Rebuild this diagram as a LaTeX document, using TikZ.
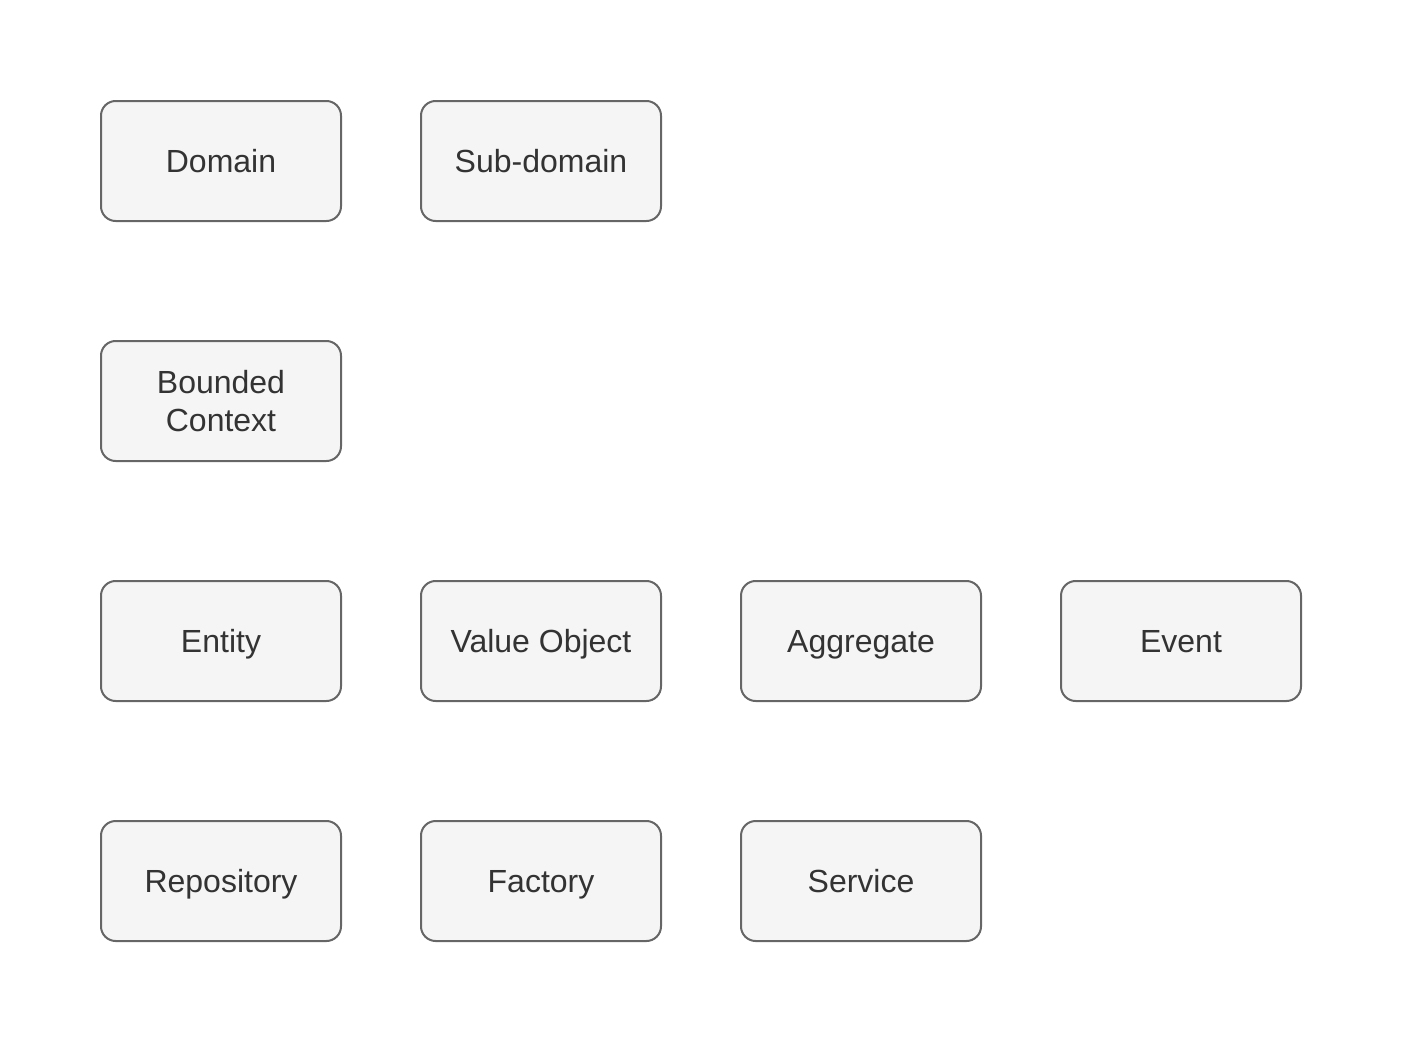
\documentclass[tikz,border=0pt]{standalone}
\usepackage{fontspec}
\setmainfont{Liberation Sans}
\definecolor{boxfill}{HTML}{F5F5F5}
\definecolor{boxline}{HTML}{666666}
\definecolor{boxtext}{HTML}{333333}
\begin{document}
\begin{tikzpicture}[x=0.75pt,y=-0.75pt,
  concept/.style={draw=boxline,fill=boxfill,line width=1.5pt,rounded corners=11pt,
    minimum width=180pt,minimum height=90pt,inner sep=0pt,align=center,
    text=boxtext,font=\fontsize{24pt}{28.8pt}\selectfont},
  oneline/.style={concept,text height=17.2pt,text depth=0pt}]
\useasboundingbox (0,0) rectangle (1402,1042);
\node[oneline] (domain) at (221,161) {Domain};
\node[oneline] (subdomain) at (541,161) {Sub-domain};
\node[concept] (bc) at (221,401) {Bounded\\Context};
\node[oneline] (entity) at (221,641) {Entity};
\node[oneline] (vo) at (541,641) {Value Object};
\node[oneline] (agg) at (861,641) {Aggregate};
\node[oneline] (event) at (1181,641) {Event};
\node[oneline] (repo) at (221,881) {Repository};
\node[oneline] (factory) at (541,881) {Factory};
\node[oneline] (service) at (861,881) {Service};
\end{tikzpicture}
\end{document}
